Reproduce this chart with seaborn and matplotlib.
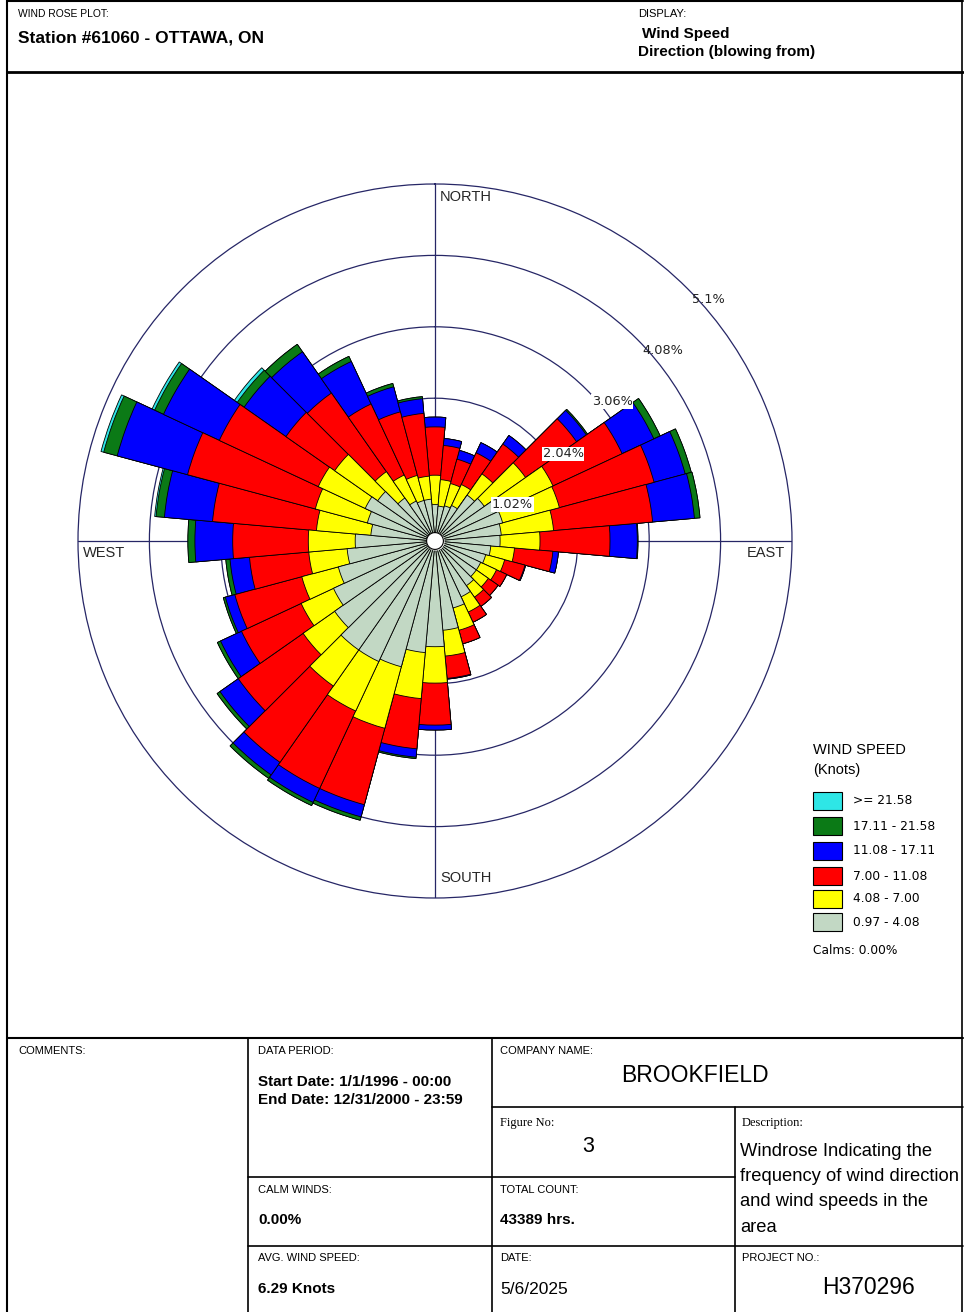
import numpy as np
import matplotlib
matplotlib.use("Agg")
import matplotlib.pyplot as plt
from matplotlib.lines import Line2D
from matplotlib.patches import Rectangle
import seaborn as sns

# sector centres in degrees clockwise from north (direction the wind blows from)
directions = np.arange(0, 360, 10)

# frequency (%) of each speed class in each sector
spd_097_408 = [0.52, 0.50, 0.52, 0.56, 0.80, 0.86, 1.03, 1.00, 0.95, 0.93, 0.80, 0.75,
               0.72, 0.72, 0.78, 0.88, 0.99, 1.28, 1.51, 1.60, 1.86, 1.90, 1.90, 1.75,
               1.60, 1.43, 1.26, 1.14, 0.92, 1.00, 1.10, 1.00, 0.75, 0.63, 0.60, 0.60]
spd_408_700 = [0.42, 0.38, 0.33, 0.33, 0.37, 0.72, 0.83, 0.84, 0.75, 0.57, 0.34, 0.28,
               0.25, 0.21, 0.20, 0.24, 0.33, 0.37, 0.52, 0.66, 0.91, 0.78, 0.63, 0.55,
               0.51, 0.54, 0.55, 0.67, 0.78, 0.77, 0.74, 0.75, 0.46, 0.41, 0.37, 0.33]
spd_700_1108 = [0.69, 0.49, 0.36, 0.50, 0.52, 0.89, 1.09, 1.40, 1.42, 1.00, 0.55, 0.30,
                0.16, 0.17, 0.16, 0.16, 0.20, 0.32, 0.60, 0.72, 1.13, 1.22, 1.33, 1.13,
                0.94, 0.99, 0.85, 1.08, 1.49, 1.89, 1.56, 0.85, 1.37, 1.12, 0.94, 0.90]
spd_1108_1711 = [0.14, 0.10, 0.13, 0.16, 0.15, 0.17, 0.50, 0.46, 0.60, 0.39, 0.08, 0.01,
                 0.00, 0.00, 0.00, 0.00, 0.00, 0.01, 0.07, 0.12, 0.18, 0.22, 0.22, 0.32,
                 0.33, 0.14, 0.28, 0.54, 0.69, 1.04, 0.88, 0.73, 0.72, 0.67, 0.37, 0.21]
spd_1711_2158 = [0.00, 0.00, 0.00, 0.00, 0.00, 0.02, 0.10, 0.09, 0.08, 0.01, 0.00, 0.00,
                 0.00, 0.00, 0.00, 0.00, 0.00, 0.00, 0.00, 0.02, 0.05, 0.05, 0.06, 0.05,
                 0.05, 0.03, 0.06, 0.10, 0.12, 0.20, 0.14, 0.12, 0.13, 0.08, 0.05, 0.03]
spd_2158_up = [0.00, 0.00, 0.00, 0.00, 0.00, 0.00, 0.00, 0.00, 0.00, 0.00, 0.00, 0.00,
               0.00, 0.00, 0.00, 0.00, 0.00, 0.00, 0.00, 0.00, 0.00, 0.00, 0.00, 0.00,
               0.00, 0.00, 0.00, 0.00, 0.02, 0.04, 0.04, 0.05, 0.00, 0.00, 0.00, 0.00]

class_labels = ["0.97 - 4.08", "4.08 - 7.00", "7.00 - 11.08",
                "11.08 - 17.11", "17.11 - 21.58", ">= 21.58"]
class_colors = ["#C2D8C4", "#FFFF00", "#FF0000", "#0000FF", "#0B7A16", "#2EE6E6"]

ring_values = [1.02, 2.04, 3.06, 4.08, 5.1]
ring_labels = ["1.02%", "2.04%", "3.06%", "4.08%", "5.1%"]

description_lines = ["Windrose Indicating the", "frequency of wind direction",
                     "and wind speeds in the", "area"]

sns.set_theme(style="white")
plt.rcParams["font.family"] = ["Liberation Sans", "DejaVu Sans"]

W, H = 964, 1312
fig = plt.figure(figsize=(W / 100, H / 100), dpi=100, facecolor="white")


def fx(x):
    return x / W


def fy(y):
    return 1 - y / H


def hline(y, x0, x1, lw=1.2):
    fig.add_artist(Line2D([fx(x0), fx(x1)], [fy(y), fy(y)], color="black", lw=lw))


def vline(x, y0, y1, lw=1.2):
    fig.add_artist(Line2D([fx(x), fx(x)], [fy(y0), fy(y1)], color="black", lw=lw))


def put(x, y, s, size, weight="normal", family=None, ha="left", va="center", color="black"):
    fig.text(fx(x), fy(y), s, fontsize=size, fontweight=weight, ha=ha, va=va,
             family=family if family else ["Liberation Sans", "DejaVu Sans"], color=color)


# ---- rose ----
cx, cy, R = 435, 541, 357
ax = fig.add_axes([fx(cx - R), fy(cy + R), 2 * R / W, 2 * R / H], projection="polar")
ax.set_theta_zero_location("N")
ax.set_theta_direction(-1)
ax.set_ylim(0, 5.1)
ax.set_facecolor("none")
ax.set_axisbelow(True)
navy = "#262666"
ax.set_yticks(ring_values[:-1])
ax.set_yticklabels([])
ax.set_xticks(np.deg2rad([0, 90, 180, 270]))
ax.set_xticklabels([])
ax.grid(True, color=navy, lw=0.9)
ax.spines["polar"].set_color(navy)
ax.spines["polar"].set_linewidth(0.9)

theta = np.deg2rad(directions)
width = np.deg2rad(10)
stack = np.cumsum(np.array([spd_097_408, spd_408_700, spd_700_1108,
                            spd_1108_1711, spd_1711_2158, spd_2158_up]), axis=0)
palette = sns.color_palette(class_colors)
for k in range(len(class_labels) - 1, -1, -1):
    ax.bar(theta, stack[k], width=width, bottom=0, color=palette[k],
           edgecolor="black", linewidth=0.6, zorder=3)

tt = np.linspace(0, 2 * np.pi, 100)
ax.fill_between(tt, 0, 0.12, color="white", zorder=4)
ax.plot(tt, np.full_like(tt, 0.12), color="black", lw=0.8, zorder=5)

label_angles = [53, 49, 47, 46.5, 46]
for v, s, a in zip(ring_values, ring_labels, label_angles):
    box = dict(facecolor="white", edgecolor="none", pad=0.5) if v < 4 else None
    ax.text(np.deg2rad(a), v, s, ha="left", va="top", fontsize=9.3,
            family="DejaVu Sans", color="#222222", bbox=box, zorder=6)

ax.text(0.507, 0.982, "NORTH", transform=ax.transAxes, fontsize=10.5, ha="left", va="center")
ax.text(0.507, 0.028, "SOUTH", transform=ax.transAxes, fontsize=10.5, ha="left", va="center")
ax.text(0.007, 0.483, "WEST", transform=ax.transAxes, fontsize=10.5, ha="left", va="center")
ax.text(0.937, 0.483, "EAST", transform=ax.transAxes, fontsize=10.5, ha="left", va="center")

# ---- legend ----
put(813, 750, "WIND SPEED", 10.5)
put(813, 770, "(Knots)", 10.5)
rows = [801, 826, 851, 876, 899, 922]
for k, yy in enumerate(rows):
    idx = len(class_labels) - 1 - k
    fig.add_artist(Rectangle((fx(813), fy(yy + 9)), 29 / W, 18 / H, transform=fig.transFigure,
                             facecolor=palette[idx], edgecolor="black", lw=0.8))
    put(853, yy, class_labels[idx], 8.8, family="DejaVu Sans")
put(813, 950, "Calms: 0.00%", 8.8, family="DejaVu Sans")

# ---- frame ----
hline(1, 7, 963, lw=1.5)
vline(7, 0, 1312, lw=1.5)
vline(962, 0, 1312, lw=1.2)
hline(72, 7, 963, lw=2.0)
hline(1038, 7, 963, lw=1.5)
vline(248, 1038, 1312)
vline(492, 1038, 1312)
vline(735, 1107, 1312)
hline(1107, 492, 963)
hline(1177, 248, 735)
hline(1246, 248, 963)

# ---- header ----
small = 8
put(18, 14, "WIND ROSE PLOT:", 7.4)
put(18, 38, "Station #61060 - OTTAWA, ON", 12.5, weight="bold")
put(638, 14, "DISPLAY:", small)
put(642, 34, "Wind Speed", 11, weight="bold")
put(638, 52, "Direction (blowing from)", 11, weight="bold")

# ---- footer ----
put(18, 1051, "COMMENTS:", small)
put(258, 1051, "DATA PERIOD:", small)
put(258, 1082, "Start Date: 1/1/1996 - 00:00", 11, weight="bold")
put(258, 1100, "End Date: 12/31/2000 - 23:59", 11, weight="bold")
put(500, 1051, "COMPANY NAME:", small)
put(695, 1075, "BROOKFIELD", 16.5, ha="center")
put(500, 1123, "Figure No:", 9, family=["Liberation Serif"])
put(588, 1147, "3", 15.5, ha="center")
put(742, 1123, "Description:", 9, family=["Liberation Serif"])
for i, line in enumerate(description_lines):
    put(740, 1151 + i * 25.5, line, 13.2)
put(258, 1190, "CALM WINDS:", small)
put(258, 1220, "0.00%", 11, weight="bold")
put(500, 1190, "TOTAL COUNT:", small)
put(500, 1220, "43389 hrs.", 11, weight="bold")
put(258, 1258, "AVG. WIND SPEED:", small)
put(258, 1289, "6.29 Knots", 11, weight="bold")
put(500, 1258, "DATE:", small)
put(500, 1289, "5/6/2025", 12.5)
put(742, 1258, "PROJECT NO.:", small)
put(868, 1287, "H370296", 16.5, ha="center")

fig.savefig("out.png", dpi=100, facecolor="white")
